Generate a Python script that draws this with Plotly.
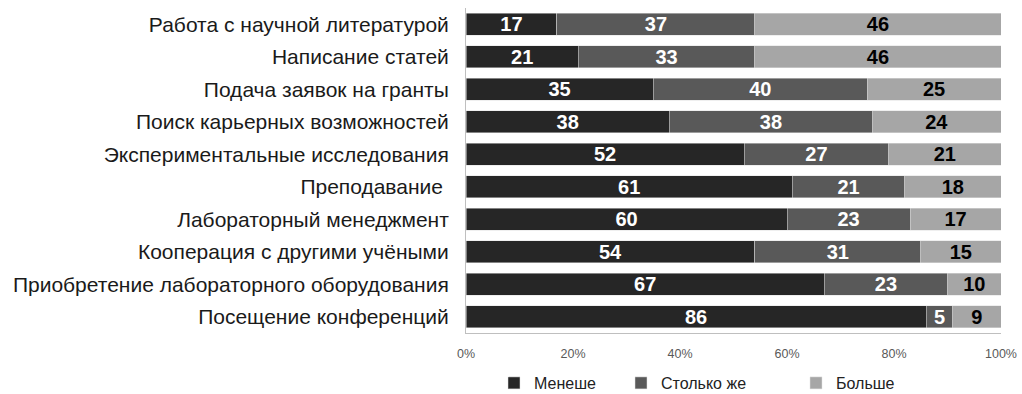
import plotly.graph_objects as go

categories = [
    "Работа с научной литературой",
    "Написание статей",
    "Подача заявок на гранты",
    "Поиск карьерных возможностей",
    "Экспериментальные исследования",
    "Преподавание ",
    "Лабораторный менеджмент",
    "Кооперация с другими учёными",
    "Приобретение лабораторного оборудования",
    "Посещение конференций",
]
less = [17, 21, 35, 38, 52, 61, 60, 54, 67, 86]
same = [37, 33, 40, 38, 27, 21, 23, 31, 23, 5]
more = [46, 46, 25, 24, 21, 18, 17, 15, 10, 9]

series_names = ["Менеше", "Столько же", "Больше"]
series_values = [less, same, more]
series_colors = ["#262626", "#595959", "#a6a6a6"]
label_colors = ["white", "white", "black"]

tick_vals = [0, 20, 40, 60, 80, 100]
tick_text = ["0%", "20%", "40%", "60%", "80%", "100%"]

FONT = "Liberation Sans, Arial, sans-serif"

# plot area in pixels, used to place the separate legend entries
L, R, T, B = 466, 1001, 8, 333
W, H = R - L, B - T
legend_px = [494, 621, 796]   # left edge of each legend entry
legend_y_px = 383

fig = go.Figure()
for i, (name, vals, color, txtcolor) in enumerate(
        zip(series_names, series_values, series_colors, label_colors)):
    fig.add_trace(go.Bar(
        y=categories,
        x=vals,
        name=name,
        orientation="h",
        marker=dict(color=color, line=dict(color="#e0e0e0", width=0.5)),
        text=[str(v) for v in vals],
        textposition="inside",
        insidetextanchor="middle",
        textangle=0,
        textfont=dict(family=FONT, size=20, color=txtcolor, weight="bold"),
        hoverinfo="skip",
        legend="legend" if i == 0 else f"legend{i + 1}",
    ))

legend_common = dict(
    orientation="h",
    yanchor="middle",
    xanchor="left",
    y=(B - legend_y_px) / H,
    font=dict(family=FONT, size=16, color="#222222"),
    bgcolor="rgba(0,0,0,0)",
)
legends = {}
for i, px in enumerate(legend_px):
    key = "legend" if i == 0 else f"legend{i + 1}"
    legends[key] = dict(legend_common, x=(px - L) / W)

fig.update_layout(
    barmode="stack",
    bargap=0.324,
    width=1022,
    height=394,
    margin=dict(l=L, r=1022 - R, t=T, b=394 - B, autoexpand=False),
    paper_bgcolor="white",
    plot_bgcolor="white",
    font=dict(family=FONT, color="#222222"),
    uniformtext=dict(minsize=20, mode="show"),
    showlegend=True,
    xaxis=dict(
        range=[0, 100],
        tickvals=tick_vals,
        ticktext=tick_text,
        tickfont=dict(size=12.5, color="#595959"),
        showgrid=False,
        zeroline=False,
        showline=True,
        linecolor="#bfbfbf",
        linewidth=1,
        ticks="outside",
        ticklen=9,
        tickcolor="rgba(0,0,0,0)",
        fixedrange=True,
    ),
    yaxis=dict(
        autorange="reversed",
        tickfont=dict(size=21, color="#1a1a1a"),
        showgrid=False,
        zeroline=False,
        showline=True,
        linecolor="#bfbfbf",
        linewidth=1,
        ticks="outside",
        ticklen=12,
        tickcolor="rgba(0,0,0,0)",
        fixedrange=True,
    ),
    **legends,
)

fig.write_html("out.html")
